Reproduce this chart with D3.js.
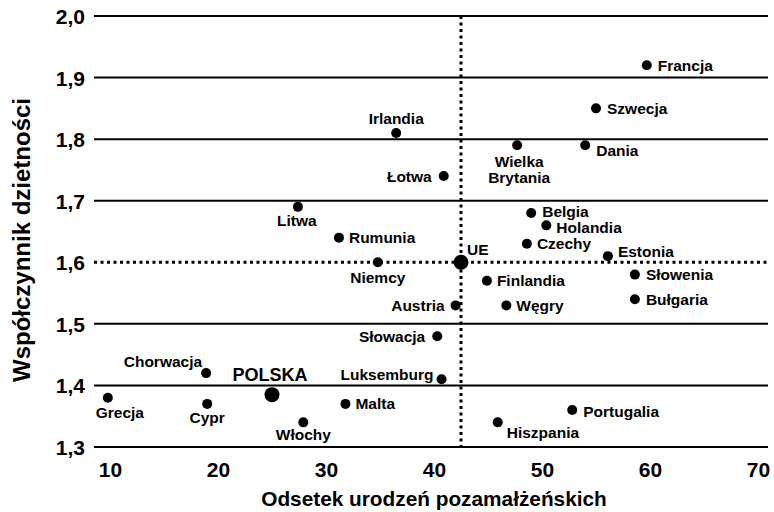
<!DOCTYPE html>
<html>
<head>
<meta charset="utf-8">
<script src="https://cdn.jsdelivr.net/npm/d3@7"></script>
<style>
  body { margin: 0; background: #fff; }
  svg { display: block; font-family: "Liberation Sans", Arial, sans-serif; font-weight: bold; }
</style>
</head>
<body>
<div id="chart"></div>
<script>
// dane: odsetek urodzeń pozamałżeńskich vs współczynnik dzietności
var countries = ["Francja", "Szwecja", "Dania", "Wielka Brytania", "Irlandia", "Łotwa", "Litwa", "Rumunia",
  "Niemcy", "UE", "Belgia", "Holandia", "Czechy", "Estonia", "Finlandia", "Słowenia", "Bułgaria",
  "Austria", "Węgry", "Słowacja", "Luksemburg", "Malta", "Portugalia", "Hiszpania", "Chorwacja",
  "POLSKA", "Grecja", "Cypr", "Włochy"];
var outsideMarriage = [59.7, 55.0, 54.0, 47.7, 36.5, 40.9, 27.4, 31.2,
  34.8, 42.5, 49.0, 50.4, 48.6, 56.1, 44.9, 58.6, 58.6,
  42.0, 46.7, 40.3, 40.7, 31.8, 52.8, 45.9, 18.9,
  25.0, 9.8, 19.0, 27.9];
var fertility = [1.92, 1.85, 1.79, 1.79, 1.81, 1.74, 1.69, 1.64,
  1.60, 1.60, 1.68, 1.66, 1.63, 1.61, 1.57, 1.58, 1.54,
  1.53, 1.53, 1.48, 1.41, 1.37, 1.36, 1.34, 1.42,
  1.385, 1.38, 1.37, 1.34];
var xTicks = [10, 20, 30, 40, 50, 60, 70];
var yTicks = [1.3, 1.4, 1.5, 1.6, 1.7, 1.8, 1.9, 2.0];
var euName = "UE";
var highlighted = ["UE", "POLSKA"];

// rozmieszczenie etykiet: [dx, dy, anchor]
var labelPos = {
  "Francja": [11, 0, "start"], "Szwecja": [11, 0, "start"], "Dania": [11, 5, "start"],
  "Wielka Brytania": [2, 16, "middle"], "Irlandia": [0, -14, "middle"], "Łotwa": [-12, 0, "end"],
  "Litwa": [-1, 14, "middle"], "Rumunia": [10, 0, "start"], "Niemcy": [0, 15, "middle"],
  "UE": [6, -13, "start"], "Belgia": [11, -2, "start"], "Holandia": [10, 2, "start"],
  "Czechy": [10, 0, "start"], "Estonia": [10, -5, "start"], "Finlandia": [10, 0, "start"],
  "Słowenia": [11, 0, "start"], "Bułgaria": [11, 0, "start"], "Austria": [-11, 0, "end"],
  "Węgry": [10, 0, "start"], "Słowacja": [-12, 0, "end"], "Luksemburg": [-8, -5, "end"],
  "Malta": [10, 0, "start"], "Portugalia": [11, 1, "start"], "Hiszpania": [9, 10, "start"],
  "Chorwacja": [-4, -12, "end"], "POLSKA": [-2, -20, "middle"], "Grecja": [12, 15, "middle"],
  "Cypr": [0, 14, "middle"], "Włochy": [0, 12, "middle"]
};

var width = 774, height = 512;
var left = 94, right = 768;

var svg = d3.select("#chart").append("svg")
  .attr("width", width)
  .attr("height", height);

var x = d3.scaleLinear().domain([10, 70]).range([110, 758]);
var y = d3.scaleLinear().domain([1.3, 2.0]).range([447, 16]);

var fmt = function(d) { return d3.format(".1f")(d).replace(".", ","); };
var euIdx = countries.indexOf(euName);
var euX = outsideMarriage[euIdx], euY = fertility[euIdx];

// linie siatki
svg.append("g").selectAll("line")
  .data(yTicks.filter(function(d) { return Math.abs(d - euY) > 1e-9; }))
  .enter().append("line")
    .attr("x1", left).attr("x2", right)
    .attr("y1", function(d) { return y(d); })
    .attr("y2", function(d) { return y(d); })
    .attr("stroke", "#000")
    .attr("stroke-width", 2);

// średnia UE - linie kropkowane
svg.append("line")
  .attr("x1", left).attr("x2", right)
  .attr("y1", y(euY)).attr("y2", y(euY))
  .attr("stroke", "#000").attr("stroke-width", 3)
  .attr("stroke-dasharray", "3,3.5");
svg.append("line")
  .attr("x1", x(euX)).attr("x2", x(euX))
  .attr("y1", y(2.0)).attr("y2", y(1.3))
  .attr("stroke", "#000").attr("stroke-width", 3)
  .attr("stroke-dasharray", "3,3.5");

// osie
var yAxis = svg.append("g")
  .attr("transform", "translate(" + (left - 9) + ",0)")
  .call(d3.axisLeft(y).tickValues(yTicks).tickFormat(fmt).tickSize(0).tickPadding(0));
var xAxis = svg.append("g")
  .attr("transform", "translate(0,460)")
  .call(d3.axisBottom(x).tickValues(xTicks).tickSize(0).tickPadding(0));
[yAxis, xAxis].forEach(function(a) {
  a.select(".domain").remove();
  a.selectAll("text")
    .attr("fill", "#000")
    .style("font-family", "'Liberation Sans', Arial, sans-serif")
    .style("font-weight", "bold")
    .style("font-size", "21px");
});
yAxis.selectAll("text").attr("dy", "0.36em");
xAxis.selectAll("text").attr("dy", "0.82em");

// tytuły osi
svg.append("text")
  .attr("x", 434).attr("y", 506)
  .attr("text-anchor", "middle")
  .style("font-size", "20.8px")
  .text("Odsetek urodzeń pozamałżeńskich");
svg.append("text")
  .attr("transform", "translate(30,240) rotate(-90)")
  .attr("text-anchor", "middle")
  .style("font-size", "24px")
  .text("Współczynnik dzietności");

// punkty
var pts = countries.map(function(c, i) {
  return { name: c, xv: outsideMarriage[i], yv: fertility[i] };
});
svg.append("g").selectAll("circle")
  .data(pts)
  .enter().append("circle")
    .attr("cx", function(d) { return x(d.xv); })
    .attr("cy", function(d) { return y(d.yv); })
    .attr("r", function(d) { return highlighted.indexOf(d.name) >= 0 ? 7.5 : 5; })
    .attr("fill", "#000");

// etykiety
var labels = svg.append("g").selectAll("text")
  .data(pts)
  .enter().append("text")
    .attr("x", function(d) { return x(d.xv) + labelPos[d.name][0]; })
    .attr("y", function(d) { return y(d.yv) + labelPos[d.name][1]; })
    .attr("text-anchor", function(d) { return labelPos[d.name][2]; })
    .attr("dominant-baseline", "central")
    .style("font-size", function(d) { return d.name == "POLSKA" ? "18px" : "15.5px"; });

labels.each(function(d) {
  var t = d3.select(this);
  if (d.name == "Wielka Brytania") {
    d.name.split(" ").forEach(function(w, i) {
      t.append("tspan")
        .attr("x", x(d.xv) + labelPos[d.name][0])
        .attr("dy", i ? 16 : 0)
        .text(w);
    });
  } else {
    t.text(d.name);
  }
});
</script>
</body>
</html>
